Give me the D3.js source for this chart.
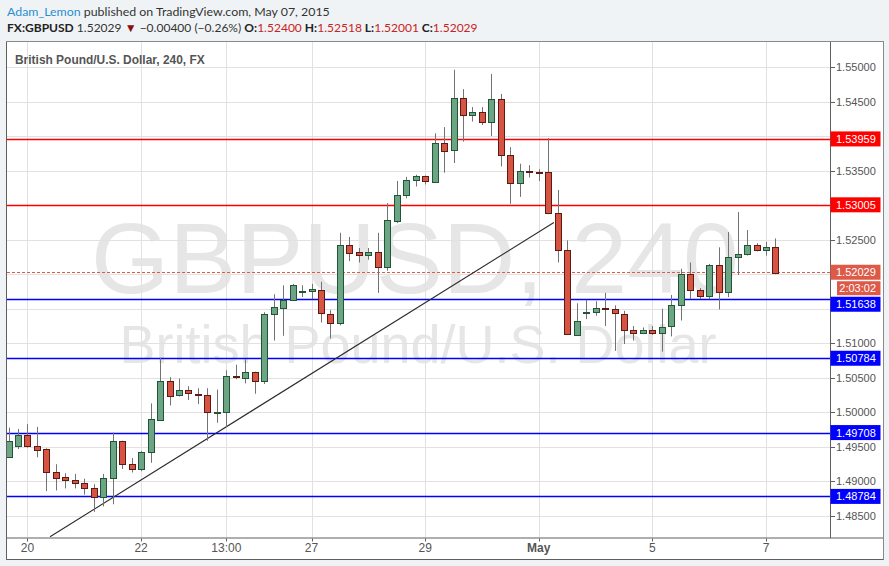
<!DOCTYPE html>
<html><head><meta charset="utf-8">
<script src="https://cdn.jsdelivr.net/npm/d3@7"></script>
<style>html,body{margin:0;padding:0;background:#f0f3f6;} svg{display:block;}</style>
</head><body><svg id="c" width="889" height="566"></svg>
<script>
// ---- data (4h candles, index 0 = Apr 20 00:00) ----
const firstIndex = -2;
const opens  = [1.4936,1.4952,1.4968,1.4952,1.4947,1.4913,1.4906,1.4902,1.4898,1.4891,1.4878,1.4905,1.4958,1.4925,1.4918,1.4942,1.4990,1.5046,1.5025,1.5032,1.5027,1.5025,1.4999,1.5000,1.5052,1.5050,1.5058,1.5045,1.5142,1.5152,1.5163,1.5174,1.5175,1.5177,1.5143,1.5130,1.5243,1.5232,1.5227,1.5232,1.5210,1.5278,1.5314,1.5336,1.5342,1.5334,1.5390,1.5379,1.5455,1.5430,1.5435,1.5420,1.5453,1.5372,1.5332,1.5349,1.5348,1.5348,1.5288,1.5235,1.5113,1.5143,1.5145,1.5151,1.5149,1.5143,1.5120,1.5116,1.5120,1.5116,1.5124,1.5155,1.5200,1.5177,1.5168,1.5213,1.5174,1.5225,1.5229,1.5242,1.5235,1.52400];
const highs  = [1.4978,1.4976,1.4983,1.4979,1.4948,1.4925,1.4912,1.4911,1.4904,1.4896,1.4911,1.4971,1.4959,1.4934,1.4944,1.5013,1.5079,1.5051,1.5049,1.5038,1.5035,1.5035,1.5033,1.5061,1.5069,1.5077,1.5059,1.5145,1.5171,1.5184,1.5186,1.5184,1.5186,1.5189,1.5148,1.5260,1.5254,1.5238,1.5238,1.5260,1.5303,1.5335,1.5341,1.5344,1.5343,1.5404,1.5413,1.5496,1.5468,1.5442,1.5442,1.5490,1.5461,1.5384,1.5360,1.5358,1.5352,1.5397,1.5322,1.5249,1.5158,1.5163,1.5161,1.5173,1.5155,1.5147,1.5125,1.5123,1.5125,1.5150,1.5170,1.5208,1.5217,1.5180,1.5215,1.5239,1.5261,1.5290,1.5264,1.5245,1.5247,1.52518];
const lows   = [1.4934,1.4947,1.4949,1.4935,1.4886,1.4887,1.4890,1.4890,1.4881,1.4856,1.4864,1.4867,1.4918,1.4913,1.4915,1.4927,1.4989,1.5010,1.5023,1.5018,1.5012,1.4959,1.4985,1.4979,1.5048,1.5042,1.5027,1.5041,1.5104,1.5111,1.5162,1.5167,1.5164,1.5130,1.5107,1.5126,1.5219,1.5217,1.5221,1.5173,1.5205,1.5274,1.5310,1.5327,1.5330,1.5333,1.5347,1.5361,1.5392,1.5421,1.5416,1.5400,1.5356,1.5302,1.5312,1.5340,1.5335,1.5287,1.5217,1.5112,1.5111,1.5135,1.5140,1.5125,1.5089,1.5099,1.5104,1.5114,1.5112,1.5088,1.5110,1.5133,1.5164,1.5164,1.5164,1.5149,1.5167,1.5199,1.5227,1.5233,1.5227,1.52001];
const closes = [1.4959,1.4968,1.4952,1.4946,1.4913,1.4905,1.4902,1.4898,1.4891,1.4878,1.4905,1.4958,1.4925,1.4918,1.4942,1.4990,1.5046,1.5025,1.5032,1.5027,1.5025,1.5000,1.5000,1.5052,1.5050,1.5058,1.5045,1.5142,1.5152,1.5163,1.5184,1.5176,1.5178,1.5143,1.5130,1.5243,1.5232,1.5227,1.5232,1.5210,1.5278,1.5315,1.5336,1.5342,1.5335,1.5390,1.5379,1.5455,1.5430,1.5435,1.5420,1.5453,1.5372,1.5332,1.5349,1.5347,1.5347,1.5288,1.5235,1.5113,1.5133,1.5145,1.5151,1.5149,1.5143,1.5120,1.5116,1.5120,1.5116,1.5124,1.5155,1.5200,1.5177,1.5168,1.5213,1.5174,1.5225,1.5229,1.5242,1.5235,1.5239,1.52029];

const xTickIndex  = [0, 12, 21, 30, 42, 54, 66, 78];
const xTickLabels = ["20", "22", "13:00", "27", "29", "May", "5", "7"];
const xTickBold   = ["May"];
const yTicks = [1.485,1.490,1.495,1.500,1.505,1.510,1.515,1.520,1.525,1.530,1.535,1.540,1.545,1.550];
const redLevels  = [1.53959, 1.53005];
const blueLevels = [1.51638, 1.50784, 1.49708, 1.48784];
const lastPrice = 1.52029;
const countdown = "2:03:02";
const trendIdx   = [2.38, 55.6];
const trendPrice = [1.4820, 1.5275];

// ---- layout ----
const W = 889, H = 566;
const PL = 7, PR = 830, PT = 42, PB = 537.5, FR = 883, FB = 559;
const svg = d3.select("#c");
const x = d3.scaleLinear().domain([-2.165, 84.76]).range([PL, PR]);
const y = d3.scaleLinear().domain([1.48189, 1.55362]).range([PB, PT]);
const AX = "Liberation Sans, Arial, sans-serif";
const HF = "Lato, 'Open Sans', sans-serif";

svg.append("rect").attr("width", W).attr("height", H).attr("fill", "#f0f3f6");
svg.append("rect").attr("x", PL).attr("y", PT).attr("width", FR - PL).attr("height", FB - PT).attr("fill", "#fff");

function fitText(sel, target) {
  const w = sel.node().getComputedTextLength();
  const fs = parseFloat(sel.attr("font-size"));
  sel.attr("font-size", fs * target / w);
}

// ---- header ----
const h1 = svg.append("text").attr("x", 7).attr("y", 16).attr("font-family", HF).attr("font-size", 13);
h1.append("tspan").attr("fill", "#2a8fd0").text("Adam_Lemon");
h1.append("tspan").attr("fill", "#333").text(" published on TradingView.com, May 07, 2015");
fitText(h1, 323);

const h2 = svg.append("text").attr("x", 7).attr("y", 32).attr("font-family", HF).attr("font-size", 13).attr("fill", "#222");
const red = "#c8231e";
[["FX:GBPUSD", "#222", "bold"], [" 1.52029 ", "#333", "normal"], ["▼", "#8b0f0f", "normal"], [" −0.00400 (−0.26%) ", "#333", "normal"],
 ["O:", "#222", "bold"], ["1.52400", red, "normal"], [" H:", "#222", "bold"], ["1.52518", red, "normal"],
 [" L:", "#222", "bold"], ["1.52001", red, "normal"], [" C:", "#222", "bold"], ["1.52029", red, "normal"]]
  .forEach(([t, c, w]) => h2.append("tspan").attr("fill", c).attr("font-weight", w).text(t));
fitText(h2, 471);

// ---- clip ----
svg.append("clipPath").attr("id", "pc").append("rect").attr("x", PL).attr("y", PT).attr("width", PR - PL).attr("height", PB - PT);
const plot = svg.append("g").attr("clip-path", "url(#pc)");

// watermark
const wm1 = plot.append("text").attr("x", 415).attr("y", 293).attr("text-anchor", "middle")
  .attr("font-family", AX).attr("font-size", 100).attr("fill", "#e6e6e6").text("GBPUSD, 240");
fitText(wm1, 648);
const wm2 = plot.append("text").attr("x", 418).attr("y", 363).attr("text-anchor", "middle")
  .attr("font-family", AX).attr("font-size", 50).attr("fill", "#e6e6e6").text("British Pound/U.S. Dollar");
fitText(wm2, 597);

// grid
plot.selectAll(".gy").data(yTicks).join("line")
  .attr("x1", PL).attr("x2", PR).attr("y1", d => Math.round(y(d)) + 0.5).attr("y2", d => Math.round(y(d)) + 0.5)
  .attr("stroke", "#e1e1e1");
plot.selectAll(".gx").data(xTickIndex).join("line")
  .attr("y1", PT).attr("y2", PB).attr("x1", d => Math.round(x(d)) + 0.5).attr("x2", d => Math.round(x(d)) + 0.5)
  .attr("stroke", "#e1e1e1");

// title
const tt = svg.append("text").attr("x", 15).attr("y", 64).attr("font-family", AX).attr("font-weight", "bold")
  .attr("font-size", 12).attr("fill", "#555").text("British Pound/U.S. Dollar, 240, FX");
fitText(tt, 190);

// levels
const hl = (v, col) => plot.append("line").attr("x1", PL).attr("x2", PR)
  .attr("y1", Math.round(y(v)) + 0.5).attr("y2", Math.round(y(v)) + 0.5).attr("stroke", col).attr("stroke-width", 1.3);
redLevels.forEach(v => hl(v, "#ff0000"));
blueLevels.forEach(v => hl(v, "#0000ff"));
plot.append("line").attr("x1", PL).attr("x2", PR).attr("y1", Math.round(y(lastPrice)) + 0.5).attr("y2", Math.round(y(lastPrice)) + 0.5)
  .attr("stroke", "#dd5a48").attr("stroke-dasharray", "3,2");

// trendline
plot.append("line").attr("x1", x(trendIdx[0])).attr("y1", y(trendPrice[0])).attr("x2", x(trendIdx[1])).attr("y2", y(trendPrice[1]))
  .attr("stroke", "#2b2b2b").attr("stroke-width", 1.1);

// candles
const candles = opens.map((o, i) => ({ i: i + firstIndex, o, h: highs[i], l: lows[i], c: closes[i] }));
const cg = plot.selectAll(".cd").data(candles).join("g");
cg.append("line")
  .attr("x1", d => Math.round(x(d.i)) + 0.5).attr("x2", d => Math.round(x(d.i)) + 0.5)
  .attr("y1", d => y(d.h)).attr("y2", d => y(d.l)).attr("stroke", "#737375");
cg.append("rect")
  .attr("x", d => Math.round(x(d.i)) - 2.5).attr("width", 6)
  .attr("y", d => Math.round(y(Math.max(d.o, d.c))) + 0.5)
  .attr("height", d => Math.max(1, Math.round(Math.abs(y(d.o) - y(d.c)))))
  .attr("fill", d => d.c >= d.o ? "#6ba583" : "#d75442")
  .attr("stroke", d => d.c >= d.o ? "#225437" : "#5b1a13");

// axes lines & frame
const fr = svg.append("g").attr("stroke", "#5f5f5f").attr("fill", "none");
fr.append("rect").attr("x", PL - 0.5).attr("y", PT - 0.5).attr("width", FR - PL + 1).attr("height", FB - PT + 1).attr("stroke", "#8a8a8a");
fr.append("line").attr("x1", PL - 0.5).attr("x2", PL - 0.5).attr("y1", PT).attr("y2", FB + 0.5);
fr.append("line").attr("x1", PL - 0.5).attr("x2", FR + 0.5).attr("y1", FB + 0.5).attr("y2", FB + 0.5);
fr.append("line").attr("x1", PL).attr("x2", FR).attr("y1", PB + 0.5).attr("y2", PB + 0.5);
fr.append("line").attr("x1", PR + 0.5).attr("x2", PR + 0.5).attr("y1", PT).attr("y2", PB + 0.5);

// x axis labels
svg.selectAll(".xl").data(xTickIndex).join("text")
  .attr("x", d => x(d)).attr("y", 552).attr("text-anchor", "middle")
  .attr("font-family", AX).attr("font-size", 12).attr("fill", "#555")
  .attr("font-weight", (d, i) => xTickBold.includes(xTickLabels[i]) ? "bold" : "normal")
  .text((d, i) => xTickLabels[i]);
svg.selectAll(".xt").data(xTickIndex).join("line")
  .attr("x1", d => Math.round(x(d)) + 0.5).attr("x2", d => Math.round(x(d)) + 0.5)
  .attr("y1", PB + 1).attr("y2", PB + 4).attr("stroke", "#5f5f5f");

// price-axis label boxes with collision
const fmt = d3.format(".5f");
const boxes = [];
redLevels.forEach(v => boxes.push({ v, col: "#ff0000", txt: fmt(v) }));
blueLevels.forEach(v => boxes.push({ v, col: "#0000ff", txt: fmt(v) }));
boxes.push({ v: lastPrice, col: "#dd5a48", txt: fmt(lastPrice), extra: countdown });
boxes.sort((a, b) => y(a.v) - y(b.v));
let prevBottom = -1e9;
boxes.forEach(b => {
  b.top = Math.max(y(b.v) - 7.5, prevBottom + 1.5);
  b.bottom = b.top + 15;
  if (b.extra) { b.etop = b.bottom + 1.5; b.bottom = b.etop + 14; }
  prevBottom = b.bottom;
});
const LH = 6;
const hidden = v => boxes.some(b => y(v) + LH > b.top && y(v) - LH < b.bottom);
const visTicks = yTicks.filter(v => !hidden(v));
svg.selectAll(".yt").data(visTicks).join("line")
  .attr("x1", PR + 1).attr("x2", PR + 5).attr("y1", d => Math.round(y(d)) + 0.5).attr("y2", d => Math.round(y(d)) + 0.5)
  .attr("stroke", "#5f5f5f");
svg.selectAll(".yl").data(visTicks).join("text")
  .attr("x", 836).attr("y", d => y(d) + 4).attr("font-family", AX).attr("font-size", 11).attr("fill", "#555")
  .text(d => fmt(d));
boxes.forEach(b => {
  svg.append("line").attr("x1", PR + 1).attr("x2", PR + 5).attr("y1", Math.round(y(b.v)) + 0.5).attr("y2", Math.round(y(b.v)) + 0.5).attr("stroke", b.col);
  svg.append("rect").attr("x", PR + 0.5).attr("y", b.top).attr("width", 50).attr("height", 15).attr("fill", b.col);
  svg.append("text").attr("x", 836).attr("y", b.top + 11.5).attr("font-family", AX).attr("font-size", 11).attr("fill", "#fff").text(b.txt);
  if (b.extra) {
    svg.append("rect").attr("x", 837).attr("y", b.etop).attr("width", 43.5).attr("height", 14).attr("fill", b.col);
    svg.append("text").attr("x", 876).attr("y", b.etop + 11).attr("text-anchor", "end").attr("font-family", AX).attr("font-size", 11).attr("fill", "#fff").text(b.extra);
  }
});
</script>
</body></html>
